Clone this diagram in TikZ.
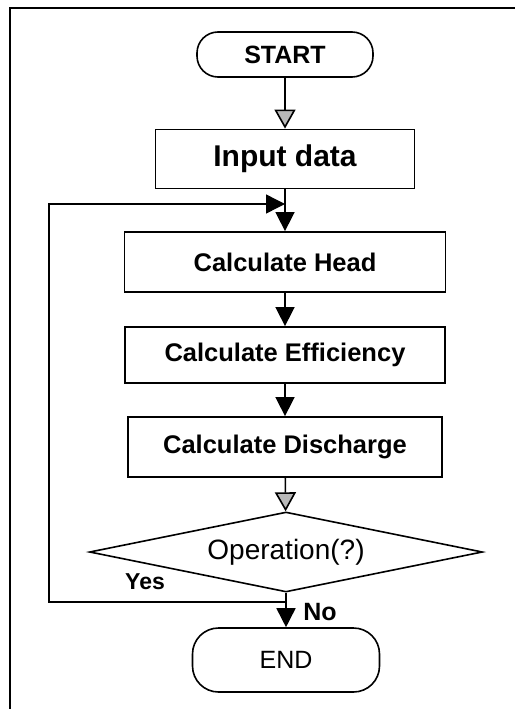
\documentclass[tikz,border=0pt]{standalone}
\usepackage{fontspec}
\setmainfont{Liberation Sans}
\usetikzlibrary{shapes.geometric,arrows.meta}
\tikzset{
  procbox/.style={draw,line width=1.8pt,inner sep=0pt,font=\bfseries\fontsize{25.5}{29}\selectfont},
  termbox/.style={draw,line width=1.6pt,inner sep=0pt},
  decbox/.style={draw,diamond,line width=1.6pt,inner sep=0pt,aspect=4.9,minimum width=393pt,minimum height=80pt,font=\fontsize{28}{32}\selectfont},
  flow/.style={line width=1.6pt},
  blackhead/.style={-{Triangle[width=19pt,length=19pt]}},
  grayhead/.style={-{Triangle[width=21pt,length=19pt,fill=gray!55,line width=1.6pt]}},
  lbl/.style={font=\bfseries\fontsize{23}{26}\selectfont,inner sep=0pt}
}
\begin{document}
\begin{tikzpicture}[x=1pt,y=-1pt]
\useasboundingbox (0,0) rectangle (515,709);
% outer frame (cropped)
\draw[line width=1.8pt] (10,709) -- (10,8) -- (515,8);
% nodes
\node[termbox,rounded corners=21pt,minimum width=176pt,minimum height=45pt,font=\bfseries\fontsize{25}{28}\selectfont] (start) at (285,54.5) {START};
\node[procbox,minimum width=259pt,minimum height=59pt,font=\bfseries\fontsize{30}{34}\selectfont] (input) at (285,159) {Input data};
\node[procbox,minimum width=321pt,minimum height=60pt] (head) at (285,262) {Calculate Head};
\node[procbox,minimum width=320pt,minimum height=56pt] (eff) at (285,355) {Calculate Efficiency};
\node[procbox,minimum width=314pt,minimum height=60pt] (dis) at (285,447) {Calculate Discharge};
\node[decbox] (op) at (286,552) {Operation(?)};
\node[termbox,rounded corners=26pt,minimum width=187pt,minimum height=64pt,font=\fontsize{25}{28}\selectfont] (end) at (286,660) {END};
% labels
\node[lbl] (yes) at (145,582) {Yes};
\node[lbl,font=\bfseries\fontsize{25}{28}\selectfont] (no) at (320,612) {No};
% junctions
\coordinate (j1) at (op.south |- 0,602);
\coordinate (j2) at (input.south |- 0,204);
\coordinate (c1) at (49,602);
% connectors
\draw[flow,grayhead] (start) -- (input);
\draw[flow,blackhead] (input) -- (head);
\draw[flow,blackhead] (head) -- (eff);
\draw[flow,blackhead] (eff) -- (dis);
\draw[flow,grayhead] (dis) -- (op);
\draw[flow,blackhead] (op.south) -- (end.north);
\draw[line width=1.4pt,blackhead] (j1) -- (c1) |- (j2);
\end{tikzpicture}
\end{document}
